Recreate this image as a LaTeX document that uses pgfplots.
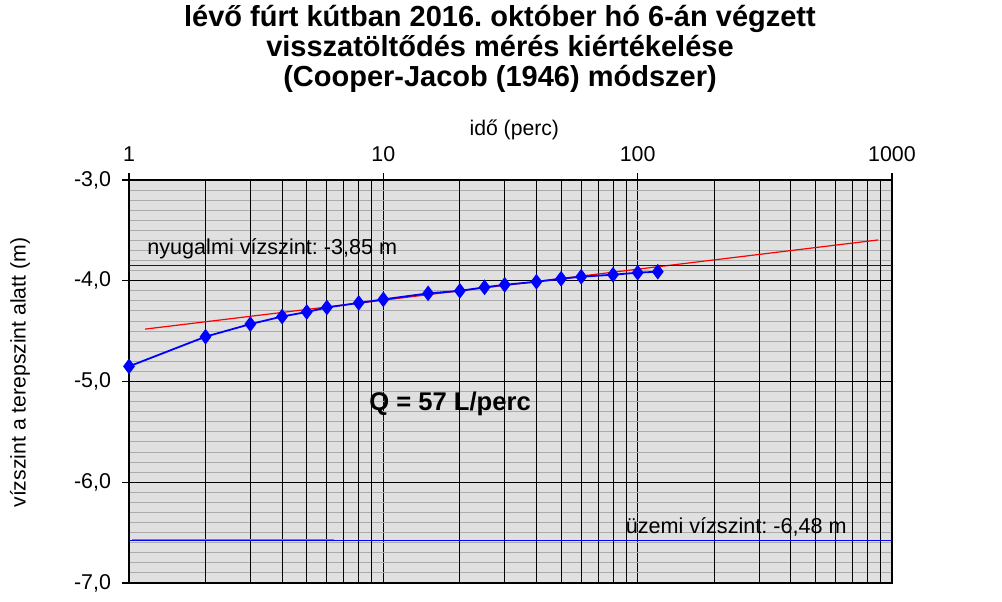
\documentclass[border=0pt]{standalone}
\usepackage{fontspec}
\setmainfont{Liberation Sans}
\usepackage{pgfplots}
\pgfplotsset{compat=1.18}
\definecolor{bggray}{RGB}{224,224,224}
\definecolor{minorgray}{RGB}{172,172,172}
\definecolor{lightline}{RGB}{125,115,220}
\frenchspacing
\begin{document}
\begin{tikzpicture}
\useasboundingbox (0,0) rectangle (501pt,300.5pt);
\node[align=center, inner sep=0pt, font=\fontsize{14.5}{15}\selectfont\bfseries] at (250pt,276.3pt)
  {lévő fúrt kútban 2016. október hó 6-án végzett\\visszatöltődés mérés kiértékelése\\(Cooper-Jacob (1946) módszer)};
\begin{axis}[
  at={(64.5pt,9pt)}, anchor=south west,
  scale only axis, width=381.5pt, height=201.5pt,
  xmode=log, log basis x=10,
  xmin=1, xmax=1000, ymin=-7, ymax=-3,
  xtick={1,10,100,1000}, xticklabels={1,10,100,1000},
  extra x ticks={2,3,4,5,6,7,8,9,20,30,40,50,60,70,80,90,200,300,400,500,600,700,800,900},
  extra x tick labels={},
  extra x tick style={grid=major, major tick length=0pt},
  xticklabel pos=right, xtick pos=right,
  ytick={-7,-6,-5,-4,-3}, ytick pos=left,
  minor y tick num=9,
  minor x tick num=0,
  yticklabel={\pgfmathprintnumber[fixed, fixed zerofill, precision=1, use comma]{\tick}},
  /pgf/number format/assume math mode=true,
  tick align=outside,
  major tick length=3.5pt, minor tick length=0pt,
  tick style={black, line width=0.6pt},
  xmajorgrids, ymajorgrids, yminorgrids,
  major grid style={black, line width=0.5pt},
  minor grid style={minorgray, line width=0.5pt},
  axis background/.style={fill=bggray},
  axis line style={black, line width=0.8pt},
  every tick label/.append style={font=\fontsize{10.7}{12}\selectfont},
  xticklabel style={yshift=2pt},
  yticklabel style={xshift=-2pt},
  label style={font=\fontsize{10.6}{12}\selectfont},
  xlabel={idő (perc)},
  xlabel style={at={(axis description cs:0.505,1)}, anchor=center, yshift=25pt},
  ylabel={vízszint a terepszint alatt (m)},
  ylabel style={at={(axis description cs:-0.1429,0.522)}, anchor=center},
  clip=false,
]
\addplot[red, line width=0.6pt] coordinates {(1.157,-4.48) (882,-3.595)};
\addplot[blue, line width=0.6pt] coordinates {(1,-3.85) (1000,-3.85)};
\addplot[lightline, line width=1.3pt] coordinates {(1.03,-6.575) (6.4,-6.575)};
\addplot[blue, line width=0.6pt] coordinates {(1,-6.575) (1000,-6.575)};
\addplot[blue, line width=0.9pt, mark=diamond*, mark size=3.2pt, mark options={fill=blue, draw=blue}] coordinates {
(1,-4.85) (2,-4.555) (3,-4.43) (4,-4.355) (5,-4.31) (6,-4.265) (8,-4.22) (10,-4.185)
(15,-4.125) (20,-4.10) (25,-4.065) (30,-4.04) (40,-4.01) (50,-3.98) (60,-3.96)
(80,-3.94) (100,-3.92) (120,-3.91)};
\node[anchor=west, inner sep=0pt, font=\fontsize{10.8}{12}\selectfont] at (axis cs:1.177,-3.685) {nyugalmi vízszint: -3,85 m};
\node[anchor=west, inner sep=0pt, font=\fontsize{10.8}{12}\selectfont] at (axis cs:89.5,-6.44) {üzemi vízszint: -6,48 m};
\node[inner sep=0pt, font=\fontsize{12.8}{13}\selectfont\bfseries] at (axis cs:18.3,-5.22) {Q = 57 L/perc};
\end{axis}
\end{tikzpicture}
\end{document}
